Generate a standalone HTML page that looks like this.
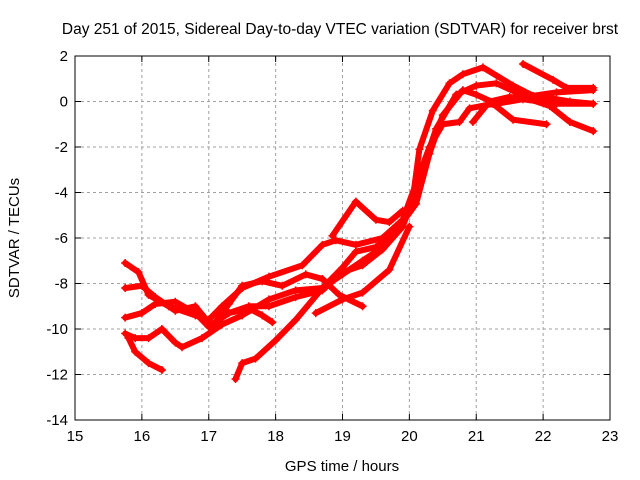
<!DOCTYPE html>
<html><head><meta charset="utf-8"><style>
body{margin:0;background:#fff}
svg{display:block;font-family:"Liberation Sans",sans-serif}
</style></head><body>
<svg id="chart" width="640" height="480">
<rect width="640" height="480" fill="#fff"/>
<g id="grid"></g>
<g id="series"></g>
<rect x="75" y="56" width="535" height="364" fill="none" stroke="#000" stroke-width="1"/>
<g id="ticks"></g>
<text x="340" y="34" font-size="15.5" text-anchor="middle">Day 251 of 2015, Sidereal Day-to-day VTEC variation (SDTVAR) for receiver brst</text>
<text x="342" y="471" font-size="15" text-anchor="middle">GPS time / hours</text>
<text transform="translate(19,238) rotate(-90)" font-size="15" text-anchor="middle">SDTVAR / TECUs</text>
</svg>
<script>
const xTicks=[15,16,17,18,19,20,21,22,23];
const yTicks=[2,0,-2,-4,-6,-8,-10,-12,-14];
const s1=[[15.75,-7.1],[15.95,-7.5],[16.1,-8.5],[16.4,-9.0],[16.8,-9.4],[17.0,-9.6],[17.2,-9.0],[17.5,-8.2],[17.9,-7.7],[18.4,-7.2],[18.7,-6.3],[18.9,-6.1],[19.2,-6.3],[19.6,-6.0],[19.9,-5.2],[20.1,-4],[20.25,-2.5],[20.4,-1.2],[20.7,0.3],[21.0,0.7],[21.3,0.8],[21.6,0.4],[22.0,0.2],[22.4,0.0],[22.75,-0.1]];
const s2=[[15.75,-8.2],[16.0,-8.1],[16.2,-8.6],[16.5,-9.2],[16.8,-9.0],[17.05,-9.9],[17.3,-8.9],[17.5,-8.1],[17.8,-7.9],[18.1,-8.1],[18.45,-7.6],[18.7,-7.8],[18.95,-8.5],[19.3,-9.0]];
const s3=[[15.75,-9.5],[16.0,-9.3],[16.2,-8.9],[16.5,-8.8],[16.8,-9.3],[17.0,-9.9],[17.3,-9.3],[17.6,-9.0],[17.9,-9.0],[18.3,-8.6],[18.7,-8.3],[19.0,-7.5],[19.3,-7.2],[19.6,-6.5],[19.9,-5.5],[20.05,-4.3],[20.15,-2.1],[20.35,-0.4],[20.6,0.8],[20.8,1.2],[21.1,1.5],[21.55,0.7],[21.85,0.25],[22.2,0.4],[22.75,0.5]];
const s4=[[15.75,-10.2],[15.9,-10.4],[16.1,-10.4],[16.3,-10.0],[16.5,-10.6],[16.6,-10.8],[16.9,-10.4],[17.2,-9.8],[17.5,-9.4],[17.9,-8.7],[18.3,-8.3],[18.7,-8.2],[19.0,-7.6],[19.3,-7.0],[19.6,-6.4],[19.9,-5.2],[20.1,-3.6],[20.3,-2.0],[20.5,-1.0],[20.75,-0.9],[20.9,-0.3],[21.25,-0.1],[21.55,-0.8],[22.05,-1.0]];
const s5=[[15.8,-10.4],[15.9,-11.0],[16.1,-11.5],[16.3,-11.8]];
const s6=[[17.4,-12.2],[17.5,-11.5],[17.7,-11.3],[18.0,-10.5],[18.3,-9.6],[18.7,-8.2],[19.0,-7.3],[19.2,-6.6],[19.5,-6.4],[19.8,-5.7],[20.1,-4.5],[20.3,-2.3],[20.5,-0.6],[20.8,0.5],[21.0,0.3],[21.3,-0.1],[21.7,0.1],[22.2,-0.1],[22.75,-0.1]];
const s7=[[17.0,-9.9],[17.3,-9.3],[17.6,-9.1],[17.8,-9.4],[17.95,-9.7]];
const s8=[[18.85,-5.9],[19.2,-4.4],[19.5,-5.2],[19.7,-5.3],[19.9,-4.8]];
const s9=[[18.6,-9.3],[19.0,-8.7],[19.3,-8.4],[19.7,-7.4],[20.0,-5.5]];
const s10=[[20.95,-0.9],[21.2,0.0],[21.5,0.2],[21.8,0.1],[22.1,-0.2],[22.4,-0.9],[22.75,-1.3]];
const s11=[[21.7,1.65],[22.15,0.95],[22.35,0.6],[22.75,0.6]];
const allSeries=[s1,s2,s3,s4,s5,s6,s7,s8,s9,s10,s11];
const X0=75,X1=610,Y0=420,Y1=56;
function xs(v){return X0+(v-15)/(23-15)*(X1-X0);}
function ys(v){return Y0-(v+14)/(2+14)*(Y0-Y1);}
const NS="http://www.w3.org/2000/svg";
const grid=document.getElementById('grid'),tk=document.getElementById('ticks'),sg=document.getElementById('series');
function mk(tag,at,parent){const e=document.createElementNS(NS,tag);for(const k in at)e.setAttribute(k,at[k]);parent.appendChild(e);return e;}
xTicks.forEach(t=>{const x=xs(t);
 if(t>15&&t<23){const l=mk('line',{x1:x,y1:Y0,x2:x,y2:Y1,stroke:'#a0a0a0','stroke-dasharray':'3,3'},grid);
 
 }
 mk('line',{x1:x,y1:Y0,x2:x,y2:Y0-6,stroke:'#000'},tk);
 mk('line',{x1:x,y1:Y1,x2:x,y2:Y1+6,stroke:'#000'},tk);
 const tx=mk('text',{x:x,y:Y0+21,'font-size':15,'text-anchor':'middle'},tk);tx.textContent=t;
 
 
});
yTicks.forEach(t=>{const y=ys(t);
 if(t>-14&&t<2){const l=mk('line',{x1:X0,y1:y,x2:X1,y2:y,stroke:'#a0a0a0','stroke-dasharray':'3,3'},grid);
 
 }
 mk('line',{x1:X0,y1:y,x2:X0+6,y2:y,stroke:'#000'},tk);
 mk('line',{x1:X1,y1:y,x2:X1-6,y2:y,stroke:'#000'},tk);
 const tx=mk('text',{x:X0-7,y:y+5,'font-size':15,'text-anchor':'end'},tk);tx.textContent=t;
 
 
});
allSeries.forEach((s,i)=>{
 const g=mk('g',{},sg);
 
 
 mk('polyline',{points:s.map(p=>xs(p[0])+','+ys(p[1])).join(' '),fill:'none',stroke:'#ff0000','stroke-width':6,'stroke-linejoin':'round','stroke-linecap':'round'},g);
 let d='';s.forEach(p=>{const x=xs(p[0]),y=ys(p[1]);d+=`M${x-4},${y}h8M${x},${y-4}v8`;});
 mk('path',{d:d,stroke:'#ff0000','stroke-width':1.5,fill:'none'},g);
});
</script>
</body></html>
